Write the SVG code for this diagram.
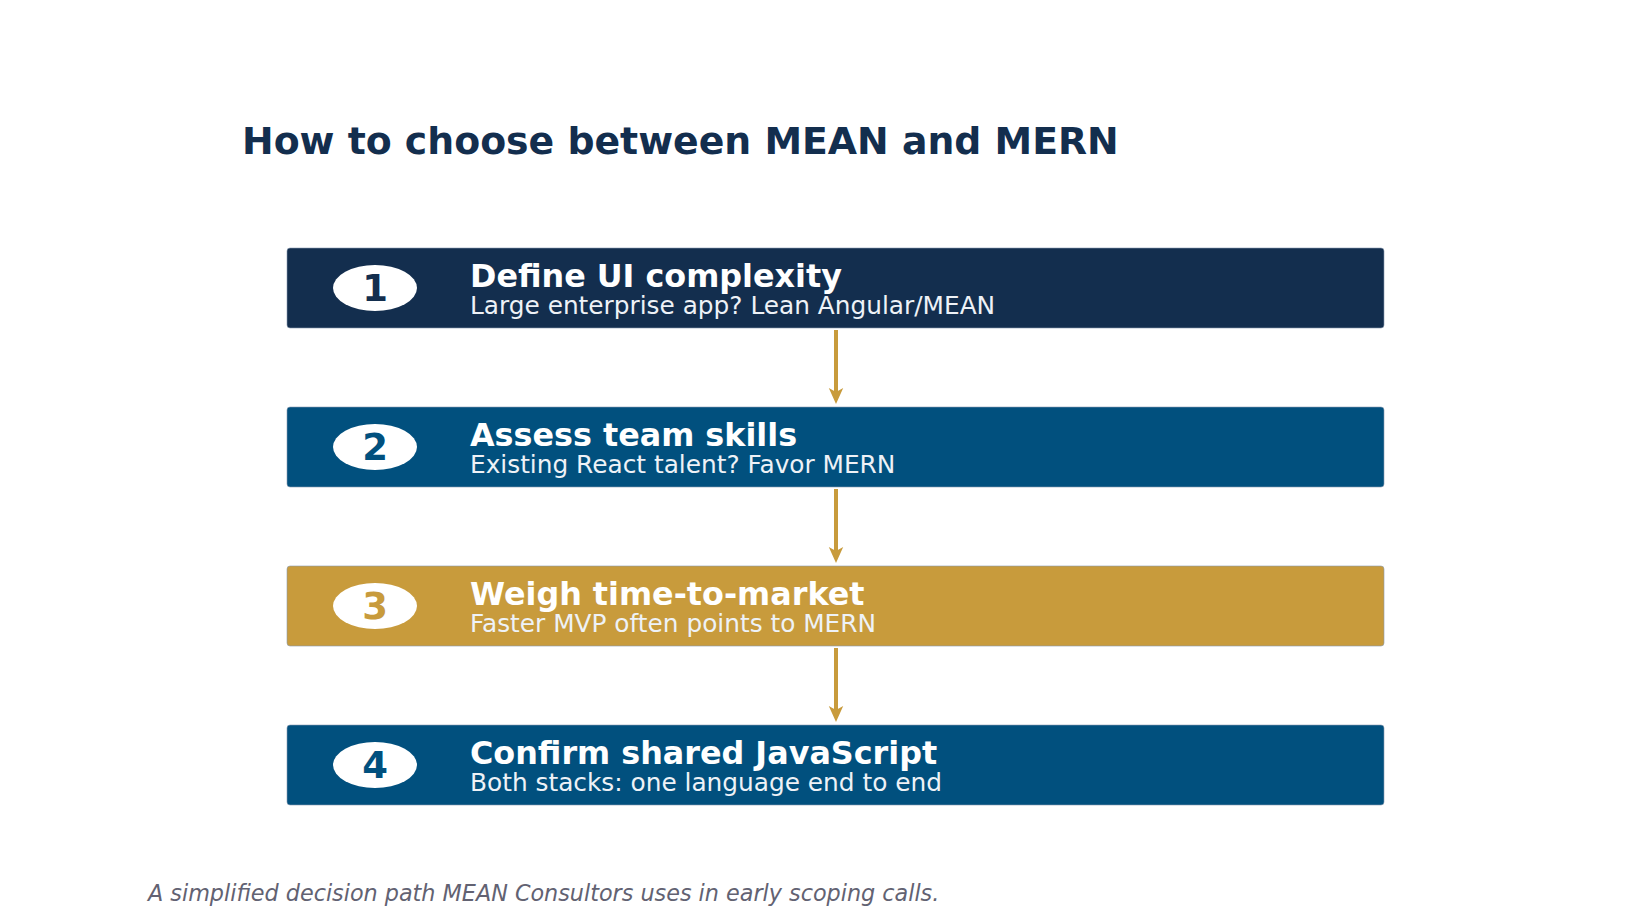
<svg xmlns="http://www.w3.org/2000/svg" width="1632" height="918" viewBox="0 0 1632 918">
<style>
.title{font-family:"DejaVu Sans",sans-serif;font-weight:bold;font-size:37.8px;fill:#132e4e}
.box{stroke:#8a9bb0;stroke-width:1;stroke-opacity:0.6}
.num{font-family:"DejaVu Sans",sans-serif;font-weight:bold;font-size:37px;text-anchor:middle}
.head{font-family:"DejaVu Sans",sans-serif;font-weight:bold;font-size:31.8px;fill:#ffffff}
.sub{font-family:"DejaVu Sans",sans-serif;font-size:24.8px;fill:#eef2f7}
.cap{font-family:"DejaVu Sans",sans-serif;font-style:italic;font-size:22.3px;fill:#626272}
.conn{stroke:#c89b3c;stroke-width:4;fill:none}
</style>
<defs>
<marker id="ah" markerWidth="4" markerHeight="4" refX="2" refY="2" orient="auto" markerUnits="strokeWidth">
<path d="M0,0.2 L4,2 L0,3.8 L1,2 Z" fill="#c89b3c"/>
</marker>
</defs>
<rect width="1632" height="918" fill="#ffffff"/>
<text class="title" x="242" y="154">How to choose between MEAN and MERN</text>
<g id="connectors">
<line class="conn" x1="836" y1="330" x2="836" y2="396" marker-end="url(#ah)"/>
<line class="conn" x1="836" y1="489" x2="836" y2="555" marker-end="url(#ah)"/>
<line class="conn" x1="836" y1="648" x2="836" y2="714" marker-end="url(#ah)"/>
</g>
<g id="step1">
<rect class="box" x="287" y="248" width="1097" height="80" rx="3" fill="#132e4e"/>
<ellipse cx="375" cy="288" rx="42" ry="23" fill="#ffffff"/>
<text class="num" x="375" y="301" fill="#132e4e">1</text>
<text class="head" x="470" y="287">Define UI complexity</text>
<text class="sub" x="470" y="314">Large enterprise app? Lean Angular/MEAN</text>
</g>
<g id="step2">
<rect class="box" x="287" y="407" width="1097" height="80" rx="3" fill="#01507e"/>
<ellipse cx="375" cy="447" rx="42" ry="23" fill="#ffffff"/>
<text class="num" x="375" y="460" fill="#01507e">2</text>
<text class="head" x="470" y="446">Assess team skills</text>
<text class="sub" x="470" y="473">Existing React talent? Favor MERN</text>
</g>
<g id="step3">
<rect class="box" x="287" y="566" width="1097" height="80" rx="3" fill="#c89b3c"/>
<ellipse cx="375" cy="606" rx="42" ry="23" fill="#ffffff"/>
<text class="num" x="375" y="619" fill="#c89b3c">3</text>
<text class="head" x="470" y="605">Weigh time-to-market</text>
<text class="sub" x="470" y="632">Faster MVP often points to MERN</text>
</g>
<g id="step4">
<rect class="box" x="287" y="725" width="1097" height="80" rx="3" fill="#01507e"/>
<ellipse cx="375" cy="765" rx="42" ry="23" fill="#ffffff"/>
<text class="num" x="375" y="778" fill="#01507e">4</text>
<text class="head" x="470" y="764">Confirm shared JavaScript</text>
<text class="sub" x="470" y="791">Both stacks: one language end to end</text>
</g>
<text class="cap" x="148" y="901">A simplified decision path MEAN Consultors uses in early scoping calls.</text>
</svg>
